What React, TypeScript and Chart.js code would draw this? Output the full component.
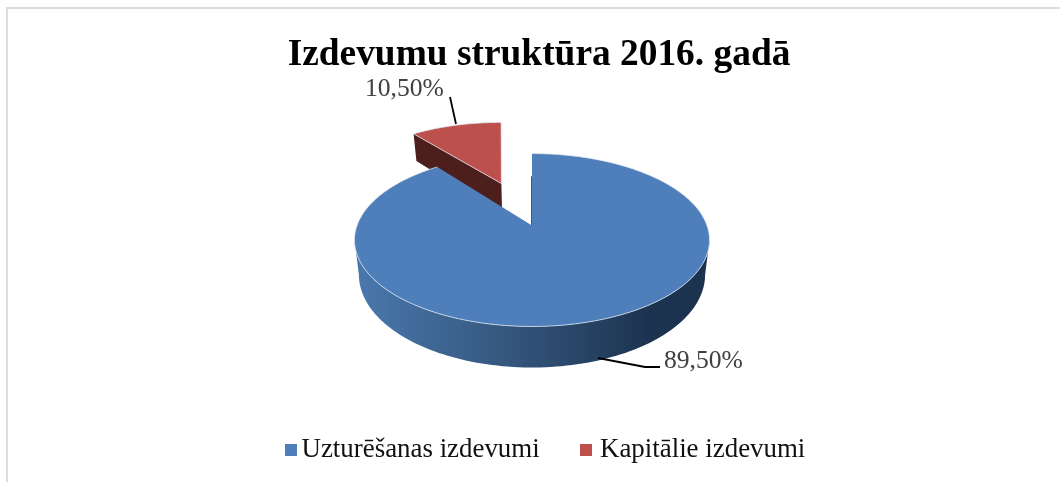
import React, { useEffect, useRef } from "react";
import { Chart, registerables } from "chart.js";

Chart.register(...registerables);

const categories = ["Uzturēšanas izdevumi", "Kapitālie izdevumi"];
const values = [89.5, 10.5];
const valueLabels = ["89,50%", "10,50%"];
const titleText = "Izdevumu struktūra 2016. gadā";
const topColors = ["#4e7fba", "#bd4f4c"];
const FONT = '"Liberation Serif"';

// projection of the pie disc (unit circle) to the screen
const P = { ax: 532, ay: 225.5, A: 175, S: 84, k: 0.168, depth: 33.7, depthV: 6.1, f: 0.975 };
const EXPLODE = [0, 0.577];
const SHEAR = [0, 0.07];
const SHIFT = [0, -0.7];

function project(X: number, Y: number, lower: boolean, i = 0) {
  const w = 1 - P.k * Y;
  const u = X / w;
  const v = Y / w;
  const y = P.ay + P.S * v;
  const dx = SHIFT[i] + (i ? -SHEAR[i] * (183 - y) : 0);
  if (!lower) return [P.ax + dx + P.A * u, y];
  return [P.ax + dx + P.A * P.f * u, y + P.depth + P.depthV * v];
}

function slicePoints(a0: number, a1: number, ox: number, oy: number, lower: boolean, i: number) {
  const pts: number[][] = [];
  const n = Math.max(4, Math.ceil(((a1 - a0) / (Math.PI * 2)) * 240));
  for (let s = 0; s <= n; s++) {
    const a = a0 + ((a1 - a0) * s) / n;
    pts.push(project(ox + Math.cos(a), oy + Math.sin(a), lower, i));
  }
  return pts;
}

function trace(ctx: CanvasRenderingContext2D, pts: number[][]) {
  ctx.beginPath();
  pts.forEach((p, i) => (i ? ctx.lineTo(p[0], p[1]) : ctx.moveTo(p[0], p[1])));
}

const pie3d = {
  id: "pie3d",
  beforeDatasetDraw(chart: any) {
    const ctx: CanvasRenderingContext2D = chart.ctx;
    const arcs = chart.getDatasetMeta(0).data;
    ctx.save();
    // exploded slice first: it lies behind the main slice
    [1, 0].forEach((i) => {
      const arc = arcs[i];
      const a0 = arc.startAngle;
      const a1 = arc.endAngle;
      const mid = (a0 + a1) / 2;
      const e = EXPLODE[i];
      const ox = Math.cos(mid) * e;
      const oy = Math.sin(mid) * e;
      const apex = project(ox, oy, false, i);
      const apexLow = project(ox, oy, true, i);
      const rim = slicePoints(a0, a1, ox, oy, false, i);
      if (i === 1) {
        const low = project(ox + Math.cos(a0), oy + Math.sin(a0), true, i);
        trace(ctx, [apex, rim[0], low, apexLow]);
        ctx.closePath();
        ctx.fillStyle = "#4d1f1c";
        ctx.fill();
      } else {
        const g = ctx.createLinearGradient(356, 0, 650, 0);
        g.addColorStop(0, "#4a78ad");
        g.addColorStop(0.5, "#35587f");
        g.addColorStop(1, "#1c3350");
        const from = Math.PI * 0.5 - 1.4;
        const to = Math.PI * 0.5 + 1.4;
        const up = slicePoints(from, to, 0, 0, false, 0);
        const lo = slicePoints(from, to, 0, 0, true, 0).reverse();
        trace(ctx, [...up, ...lo]);
        ctx.closePath();
        ctx.fillStyle = g;
        ctx.fill();
      }
      trace(ctx, [apex, ...rim]);
      ctx.closePath();
      ctx.fillStyle = topColors[i];
      ctx.fill();
      ctx.lineWidth = 1;
      ctx.strokeStyle = "rgba(225,232,240,0.75)";
      trace(ctx, i === 1 ? [...rim, apex, rim[0]] : rim);
      ctx.stroke();
      if (i === 0) {
        const s = project(Math.cos(a0) * 0.65, Math.sin(a0) * 0.65, false, 0);
        ctx.strokeStyle = "rgba(28,48,72,0.8)";
        ctx.beginPath();
        ctx.moveTo(s[0] - 0.5, s[1]);
        ctx.lineTo(apex[0] - 0.5, apex[1]);
        ctx.stroke();
      }
    });
    ctx.restore();
    return false;
  },
  afterDraw(chart: any) {
    const ctx: CanvasRenderingContext2D = chart.ctx;
    ctx.save();
    // outer frame of the chart area
    ctx.strokeStyle = "#dcdcdc";
    ctx.lineWidth = 2;
    ctx.beginPath();
    ctx.moveTo(7, 482);
    ctx.lineTo(7, 8);
    ctx.lineTo(1060, 8);
    ctx.stroke();
    // leader lines
    ctx.strokeStyle = "#000";
    ctx.lineWidth = 1.8;
    ctx.beginPath();
    ctx.moveTo(450, 97);
    ctx.lineTo(456, 124);
    ctx.stroke();
    ctx.beginPath();
    ctx.moveTo(598, 358);
    ctx.lineTo(645, 367);
    ctx.lineTo(660, 367);
    ctx.stroke();
    // value labels
    ctx.fillStyle = "#404040";
    ctx.font = `25.6px ${FONT}`;
    ctx.textBaseline = "middle";
    ctx.textAlign = "left";
    ctx.fillText(valueLabels[1], 365, 89);
    ctx.fillText(valueLabels[0], 664, 361);
    // legend
    const boxes = [285, 580];
    const textX = [301.5, 600];
    ctx.font = `26.9px ${FONT}`;
    categories.forEach((c, i) => {
      ctx.fillStyle = topColors[i];
      ctx.fillRect(boxes[i], 444, 12, 12);
      ctx.fillStyle = "#111";
      ctx.fillText(c, textX[i], 450);
    });
    ctx.restore();
  },
};

export default function App() {
  const ref = useRef<HTMLCanvasElement>(null);
  useEffect(() => {
    const chart = new Chart(ref.current!, {
      type: "pie",
      data: {
        labels: categories,
        datasets: [{ data: values, backgroundColor: topColors, borderWidth: 0 }],
      },
      options: {
        responsive: false,
        animation: false,
        layout: { padding: { left: 18, top: 33 } },
        plugins: {
          legend: { display: false },
          tooltip: { enabled: false },
          title: {
            display: true,
            text: titleText,
            color: "#000",
            font: { family: FONT, size: 37.4, weight: "bold" },
            padding: 0,
          },
        },
      },
      plugins: [pie3d],
    } as any);
    return () => chart.destroy();
  }, []);
  return (
    <div style={{ position: "absolute", left: 0, top: 0, width: 1060, height: 482, background: "#fff" }}>
      <canvas ref={ref} width={1060} height={482} style={{ display: "block" }} />
    </div>
  );
}
